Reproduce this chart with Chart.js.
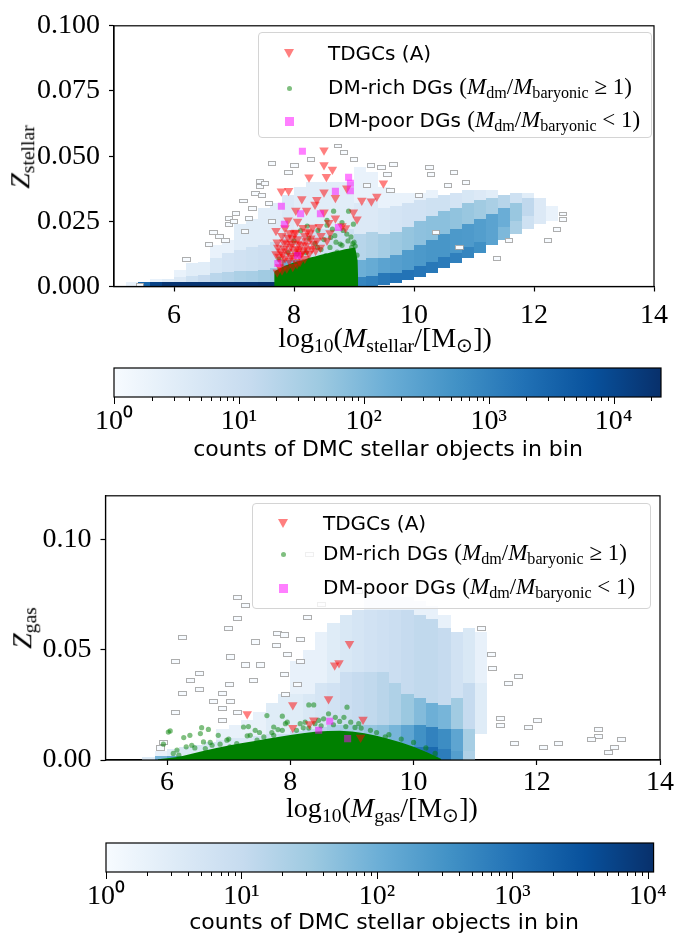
<!DOCTYPE html>
<html>
<head>
<meta charset="utf-8">
<script src="https://cdn.jsdelivr.net/npm/chart.js@4.4.1/dist/chart.umd.min.js"></script>
<style>
  body { margin: 0; background: #fff; }
  #page { position: relative; width: 675px; height: 935px; overflow: hidden; }
  canvas { position: absolute; left: 0; }
  .lbl { position: absolute; font-family: "Liberation Serif", serif; font-size: 28px; color: #000;
         white-space: nowrap; line-height: 1; transform: translate(-50%, -50%); }
  .lbl sub { font-size: 0.7em; vertical-align: -0.25em; }
  .cbt { position: absolute; font-family: "DejaVu Sans", sans-serif; font-size: 22px; color: #000;
         white-space: nowrap; transform: translate(-50%, -50%); }
  .legend { position: absolute; border: 1px solid #d4d4d4; border-radius: 4px;
            background: rgba(255,255,255,0.8); font-family: "DejaVu Sans", sans-serif; font-size: 20px; }
  .row { position: absolute; white-space: nowrap; line-height: 1; transform: translateY(-50%); }
  .m { font-family: "Liberation Serif", serif; font-size: 23px; }
  .m sub { font-size: 0.7em; vertical-align: -0.25em; }
  .tri { position: absolute; width: 0; height: 0; border-left: 5px solid transparent;
         border-right: 5px solid transparent; border-top: 9px solid rgba(255,0,0,0.5); }
  .dot { position: absolute; width: 5px; height: 5px; border-radius: 50%; background: rgba(0,128,0,0.5); }
  .sq { position: absolute; width: 9px; height: 9px; background: rgba(255,0,255,0.5); }
</style>
</head>
<body>
<div id="page">
  <canvas id="cTop" width="675" height="340" style="top:0"></canvas>
  <canvas id="cbTop" width="675" height="95" style="top:350px"></canvas>
  <canvas id="cBot" width="675" height="340" style="top:470px"></canvas>
  <canvas id="cbBot" width="675" height="95" style="top:825px"></canvas>

  <div class="lbl" style="left:22px;top:157px;transform:translate(-50%,-50%) rotate(-90deg)"><i>Z</i><sub>stellar</sub></div>
  <div class="lbl" style="left:385px;top:340px">log<sub>10</sub>(<i>M</i><sub>stellar</sub>/[M<sub>⊙</sub>])</div>
  <div class="cbt" style="left:388px;top:448px">counts of DMC stellar objects in bin</div>

  <div class="lbl" style="left:24px;top:628px;transform:translate(-50%,-50%) rotate(-90deg)"><i>Z</i><sub>gas</sub></div>
  <div class="lbl" style="left:382px;top:810px">log<sub>10</sub>(<i>M</i><sub>gas</sub>/[M<sub>⊙</sub>])</div>
  <div class="cbt" style="left:384px;top:921px">counts of DMC stellar objects in bin</div>

  <div class="legend" style="left:258px;top:32px;width:392px;height:104px">
    <div class="tri" style="left:25px;top:16px"></div>
    <div class="row" style="left:69px;top:20px">TDGCs (A)</div>
    <div class="dot" style="left:28px;top:53px"></div>
    <div class="row" style="left:69px;top:55px">DM-rich DGs <span class="m">(<i>M</i><sub>dm</sub>/<i>M</i><sub>baryonic</sub> ≥ 1)</span></div>
    <div class="sq" style="left:26px;top:84px"></div>
    <div class="row" style="left:69px;top:88px">DM-poor DGs <span class="m">(<i>M</i><sub>dm</sub>/<i>M</i><sub>baryonic</sub> &lt; 1)</span></div>
  </div>

  <div class="legend" style="left:252px;top:503px;width:397px;height:104px">
    <div class="tri" style="left:25px;top:15px"></div>
    <div class="row" style="left:70px;top:19px">TDGCs (A)</div>
    <div class="dot" style="left:28px;top:48px"></div>
    <div class="row" style="left:70px;top:50px">DM-rich DGs <span class="m">(<i>M</i><sub>dm</sub>/<i>M</i><sub>baryonic</sub> ≥ 1)</span></div>
    <div class="sq" style="left:26px;top:80px"></div>
    <div class="row" style="left:70px;top:84px">DM-poor DGs <span class="m">(<i>M</i><sub>dm</sub>/<i>M</i><sub>baryonic</sub> &lt; 1)</span></div>
  </div>
</div>

<script>
// ---- axis ticks ----
const xTicks = [6, 8, 10, 12, 14];
const zStellarTicks = [0, 0.025, 0.05, 0.075, 0.1];
const zGasTicks = [0, 0.05, 0.1];
const cbMajor = [1, 10, 100, 1000, 10000];
const cbMaxTop = 24000;
const cbMaxBot = 11000;

// ---- 2D histogram, stellar panel: column left edges (0.2 dex wide) and [yLow, yHigh, count] runs ----
const stellarCols = [5.2, 5.4, 5.6, 5.8, 6.0, 6.2, 6.4, 6.6, 6.8, 7.0, 7.2, 7.4, 7.6, 7.8, 8.0, 8.2, 8.4, 8.6, 8.8,
  9.0, 9.2, 9.4, 9.6, 9.8, 10.0, 10.2, 10.4, 10.6, 10.8, 11.0, 11.2, 11.4, 11.6, 11.8, 12.0, 12.2];
const stellarSegs = [
  [[0, 0.0016, 2]],
  [[0, 0.0016, 3000]],
  [[0, 0.0016, 12000], [0.0016, 0.003, 2]],
  [[0, 0.0016, 20000], [0.0016, 0.003, 3]],
  [[0, 0.0016, 20000], [0.0016, 0.0035, 4], [0.0035, 0.0065, 2]],
  [[0, 0.0016, 20000], [0.0016, 0.004, 8], [0.004, 0.009, 3]],
  [[0, 0.0016, 20000], [0.0016, 0.0045, 12], [0.0045, 0.0095, 3]],
  [[0, 0.0016, 20000], [0.0016, 0.005, 18], [0.005, 0.011, 5], [0.011, 0.016, 2]],
  [[0, 0.0016, 20000], [0.0016, 0.0055, 22], [0.0055, 0.013, 6], [0.013, 0.018, 2]],
  [[0, 0.0016, 20000], [0.0016, 0.006, 28], [0.006, 0.014, 7], [0.014, 0.024, 3]],
  [[0, 0.0016, 20000], [0.0016, 0.006, 32], [0.006, 0.015, 8], [0.015, 0.026, 3]],
  [[0, 0.0016, 22000], [0.0016, 0.0065, 40], [0.0065, 0.016, 9], [0.016, 0.03, 3]],
  [[0, 0.0016, 22000], [0.0016, 0.007, 45], [0.007, 0.017, 10], [0.017, 0.032, 3]],
  [[0, 0.003, 15000], [0.003, 0.01, 150], [0.01, 0.02, 12], [0.02, 0.035, 4]],
  [[0, 0.003, 8000], [0.003, 0.01, 200], [0.01, 0.02, 10], [0.02, 0.038, 3]],
  [[0, 0.003, 5000], [0.003, 0.01, 250], [0.01, 0.022, 8], [0.022, 0.04, 3]],
  [[0, 0.003, 3000], [0.003, 0.01, 250], [0.01, 0.022, 8], [0.022, 0.04, 3]],
  [[0, 0.003, 2500], [0.003, 0.01, 300], [0.01, 0.022, 8], [0.022, 0.04, 3]],
  [[0, 0.003, 2000], [0.003, 0.01, 300], [0.01, 0.022, 8], [0.022, 0.04, 3]],
  [[0, 0.0035, 900], [0.0035, 0.01, 150], [0.01, 0.02, 20], [0.02, 0.032, 4], [0.032, 0.046, 2]],
  [[0, 0.004, 1100], [0.004, 0.011, 180], [0.011, 0.021, 25], [0.021, 0.034, 4], [0.034, 0.044, 2]],
  [[0.0005, 0.005, 1500], [0.005, 0.011, 250], [0.011, 0.02, 35], [0.02, 0.03, 5], [0.03, 0.038, 2]],
  [[0.0015, 0.005, 1800], [0.005, 0.012, 300], [0.012, 0.021, 45], [0.021, 0.031, 6], [0.031, 0.036, 2]],
  [[0.0025, 0.0065, 1800], [0.0065, 0.014, 350], [0.014, 0.023, 55], [0.023, 0.032, 7], [0.032, 0.036, 2]],
  [[0.0035, 0.008, 1600], [0.008, 0.016, 400], [0.016, 0.025, 65], [0.025, 0.033, 7], [0.033, 0.036, 2]],
  [[0.005, 0.0095, 1500], [0.0095, 0.018, 450], [0.018, 0.027, 70], [0.027, 0.034, 8], [0.034, 0.037, 2]],
  [[0.007, 0.0115, 1300], [0.0115, 0.02, 450], [0.02, 0.029, 70], [0.029, 0.035, 8]],
  [[0.009, 0.013, 1100], [0.013, 0.022, 400], [0.022, 0.03, 60], [0.03, 0.036, 6]],
  [[0.011, 0.015, 900], [0.015, 0.024, 380], [0.024, 0.032, 50], [0.032, 0.037, 5]],
  [[0.013, 0.017, 600], [0.017, 0.026, 320], [0.026, 0.033, 40], [0.033, 0.037, 4]],
  [[0.016, 0.021, 250], [0.021, 0.028, 250], [0.028, 0.034, 30], [0.034, 0.037, 3]],
  [[0.018, 0.023, 100], [0.023, 0.03, 160], [0.03, 0.035, 20]],
  [[0.02, 0.025, 30], [0.025, 0.032, 50], [0.032, 0.036, 8]],
  [[0.022, 0.027, 8], [0.027, 0.034, 15], [0.034, 0.036, 3]],
  [[0.024, 0.034, 4]],
  [[0.025, 0.031, 2]]
];
// single-count cells (centres)
const stellarLone = [[5.43, 0.0006], [6.20, 0.0107], [6.58, 0.0163], [6.65, 0.021], [6.75, 0.0195], [6.85, 0.018],
  [6.91, 0.0264], [6.91, 0.0239], [7.02, 0.0283], [6.99, 0.0251], [7.18, 0.0214], [7.24, 0.0264], [7.15, 0.033],
  [7.30, 0.030], [7.35, 0.036], [7.43, 0.0403], [7.43, 0.0384], [7.46, 0.0352], [7.51, 0.0396], [7.57, 0.032],
  [7.62, 0.0472], [7.62, 0.0251], [7.90, 0.044], [8.00, 0.0466], [8.28, 0.049], [8.72, 0.0541], [8.83, 0.0516],
  [8.99, 0.049], [9.27, 0.0466], [9.21, 0.039], [9.45, 0.046], [9.55, 0.043], [9.60, 0.037], [9.65, 0.047],
  [10.07, 0.035], [10.25, 0.046], [10.28, 0.043], [10.56, 0.039], [10.66, 0.044], [10.86, 0.040], [10.36, 0.021],
  [10.75, 0.015], [11.38, 0.011], [11.57, 0.018], [12.22, 0.018], [12.37, 0.022], [12.47, 0.028], [12.47, 0.026]];

// ---- 2D histogram, gas panel ----
const gasCols = [5.6, 5.8, 6.0, 6.2, 6.4, 6.6, 6.8, 7.0, 7.2, 7.4, 7.6, 7.8, 8.0, 8.2, 8.4, 8.6, 8.8, 9.0, 9.2,
  9.4, 9.6, 9.8, 10.0, 10.2, 10.4, 10.6, 10.8, 11.0];
const gasSegs = [
  [[0, 0.0015, 3]],
  [[0, 0.0018, 80], [0.0018, 0.004, 2]],
  [[0, 0.0018, 150], [0.0018, 0.005, 3]],
  [[0, 0.0018, 200], [0.0018, 0.006, 4]],
  [[0, 0.0018, 200], [0.0018, 0.007, 4]],
  [[0, 0.002, 150], [0.002, 0.008, 4]],
  [[0, 0.002, 100], [0.002, 0.009, 4], [0.009, 0.014, 2]],
  [[0, 0.002, 100], [0.002, 0.01, 4], [0.01, 0.016, 2]],
  [[0, 0.002, 100], [0.002, 0.01, 4], [0.01, 0.018, 2]],
  [[0, 0.002, 100], [0.002, 0.011, 5], [0.011, 0.022, 2]],
  [[0, 0.002, 100], [0.002, 0.012, 6], [0.012, 0.026, 3]],
  [[0, 0.003, 100], [0.003, 0.012, 8], [0.012, 0.03, 3]],
  [[0, 0.003, 150], [0.003, 0.013, 10], [0.013, 0.03, 3], [0.03, 0.045, 2]],
  [[0, 0.003, 150], [0.003, 0.014, 12], [0.014, 0.03, 4], [0.03, 0.05, 2]],
  [[0, 0.004, 200], [0.004, 0.015, 15], [0.015, 0.035, 5], [0.035, 0.058, 2]],
  [[0, 0.004, 250], [0.004, 0.016, 20], [0.016, 0.035, 6], [0.035, 0.062, 3]],
  [[0, 0.005, 300], [0.005, 0.016, 25], [0.016, 0.04, 8], [0.04, 0.066, 4]],
  [[0, 0.005, 350], [0.005, 0.016, 30], [0.016, 0.04, 10], [0.04, 0.068, 5]],
  [[0, 0.005, 400], [0.005, 0.016, 40], [0.016, 0.04, 12], [0.04, 0.068, 6], [0.068, 0.075, 2]],
  [[0, 0.005, 500], [0.005, 0.016, 50], [0.016, 0.04, 15], [0.04, 0.068, 7], [0.068, 0.076, 2]],
  [[0, 0.005, 600], [0.005, 0.016, 80], [0.016, 0.035, 20], [0.035, 0.068, 8], [0.068, 0.075, 2]],
  [[0, 0.005, 700], [0.005, 0.016, 150], [0.016, 0.03, 35], [0.03, 0.068, 10], [0.068, 0.074, 2]],
  [[0, 0.006, 1000], [0.006, 0.016, 350], [0.016, 0.028, 60], [0.028, 0.066, 12], [0.066, 0.072, 2]],
  [[0, 0.006, 1400], [0.006, 0.015, 600], [0.015, 0.026, 100], [0.026, 0.064, 12], [0.064, 0.07, 2]],
  [[0, 0.005, 700], [0.005, 0.014, 400], [0.014, 0.025, 80], [0.025, 0.06, 10], [0.06, 0.066, 2]],
  [[0, 0.004, 200], [0.004, 0.014, 150], [0.014, 0.028, 30], [0.028, 0.058, 6]],
  [[0, 0.004, 20], [0.004, 0.014, 25], [0.014, 0.035, 10], [0.035, 0.06, 4]],
  [[0.012, 0.035, 3], [0.035, 0.058, 2]]
];
const gasLone = [[8.30, 0.0934], [7.13, 0.074], [7.27, 0.0703], [7.13, 0.0646], [6.99, 0.060], [6.24, 0.0557],
  [7.78, 0.0575], [7.43, 0.0538], [7.76, 0.0523], [7.02, 0.047], [6.13, 0.0448], [7.27, 0.0434], [7.51, 0.0434],
  [6.51, 0.0396], [6.37, 0.0362], [7.40, 0.0362], [7.00, 0.0344], [6.51, 0.0324], [6.24, 0.0306], [6.75, 0.0269],
  [6.89, 0.0306], [7.02, 0.0269], [6.13, 0.0217], [6.89, 0.0236], [7.13, 0.0217], [6.89, 0.018], [5.89, 0.0057],
  [5.93, 0.008], [7.89, 0.057], [8.16, 0.055], [7.95, 0.048], [8.16, 0.045], [7.89, 0.039], [8.11, 0.0344],
  [7.92, 0.030], [8.27, 0.065], [8.50, 0.071], [9.10, 0.077], [11.09, 0.060], [11.25, 0.048], [11.27, 0.0419],
  [11.69, 0.038], [11.53, 0.035], [11.41, 0.019], [11.41, 0.016], [12.00, 0.018], [11.85, 0.015], [11.63, 0.0076],
  [12.10, 0.006], [12.35, 0.0076], [12.99, 0.014], [13.00, 0.011], [12.88, 0.0097], [13.37, 0.0097], [13.25, 0.006],
  [13.15, 0.0036]];

// ---- scatter samples, stellar panel ----
const tdgcStellar = [[8.50, 0.0523], [8.50, 0.0466], [8.64, 0.0449], [8.25, 0.0419], [8.54, 0.0421], [8.88, 0.0377],
  [7.79, 0.0365], [7.91, 0.0367], [8.50, 0.0362], [8.13, 0.0336], [8.38, 0.0333], [8.69, 0.0340], [9.13, 0.0330],
  [9.29, 0.0327], [9.38, 0.0345], [9.49, 0.0396], [8.35, 0.0315], [8.03, 0.0292], [8.21, 0.0292], [8.50, 0.0285],
  [8.99, 0.0285], [7.90, 0.0254], [8.06, 0.0249], [8.69, 0.0262], [9.05, 0.0258], [7.85, 0.0224], [7.70, 0.0214],
  [8.31, 0.0226], [8.42, 0.0229], [8.80, 0.0232], [8.86, 0.0224], [8.03, 0.0207], [8.22, 0.0211], [7.90, 0.0188],
  [8.06, 0.0182], [8.38, 0.0176], [8.55, 0.0176], [7.73, 0.0150], [7.95, 0.0153], [8.20, 0.0157], [8.44, 0.0150],
  [8.01, 0.0132], [7.81, 0.0123], [8.09, 0.0119], [8.25, 0.0126], [7.79, 0.0094], [7.92, 0.0100], [7.76, 0.0075],
  [8.18, 0.0107], [8.36, 0.0138], [7.72, 0.017], [7.78, 0.0135], [7.88, 0.0165], [7.97, 0.0185], [8.04, 0.0145],
  [8.12, 0.016], [8.15, 0.0135], [8.28, 0.0185], [8.32, 0.0165], [7.85, 0.0108], [7.95, 0.0118], [8.10, 0.0095],
  [8.00, 0.0205], [8.45, 0.0195], [8.60, 0.0205], [8.27, 0.0205], [7.80, 0.0195], [8.15, 0.0225], [8.58, 0.0245],
  [7.72, 0.0055], [7.80, 0.0062], [7.88, 0.0070], [7.98, 0.0076], [8.05, 0.0086], [7.75, 0.0115], [7.90, 0.0135],
  [8.07, 0.0165], [8.20, 0.0175], [7.84, 0.0145], [8.00, 0.0110], [8.12, 0.0125], [8.30, 0.0145], [7.93, 0.0205],
  [8.18, 0.0195], [7.70, 0.0125], [7.83, 0.0170], [8.08, 0.0140], [8.22, 0.0140], [7.96, 0.0165]];
const poorStellar = [[8.14, 0.0519], [8.91, 0.0419], [8.94, 0.0396], [8.94, 0.0367], [8.69, 0.0365], [7.79, 0.0308],
  [8.44, 0.0279], [8.11, 0.0279], [8.74, 0.0226], [7.84, 0.0239], [7.73, 0.0088], [8.06, 0.0119]];
const richStellar = [[8.66, 0.0289], [8.91, 0.0289], [8.55, 0.0254], [8.80, 0.0245], [8.99, 0.0239], [8.64, 0.0220],
  [8.88, 0.0201], [8.61, 0.0188], [8.11, 0.0214], [8.22, 0.0232], [8.77, 0.0163], [8.96, 0.0150], [8.39, 0.0150],
  [8.72, 0.0132], [8.91, 0.0126], [8.53, 0.0119], [8.05, 0.0125], [8.20, 0.013], [8.45, 0.0142], [8.60, 0.015],
  [8.80, 0.0158], [9.00, 0.017], [8.90, 0.0175], [8.70, 0.017], [8.35, 0.0165], [8.50, 0.018], [8.95, 0.019],
  [7.90, 0.013], [7.75, 0.0105], [8.68, 0.0195], [8.82, 0.0215], [9.02, 0.0155], [8.25, 0.0185], [8.40, 0.0215],
  [8.00, 0.0175], [8.55, 0.0235], [9.05, 0.012], [8.98, 0.0165]];
// upper envelope of the saturated DM-rich cloud
const richStellarEdge = [[7.67, 0.0058], [7.75, 0.0068], [7.85, 0.0080], [7.95, 0.0088], [8.05, 0.0096],
  [8.15, 0.0101], [8.25, 0.0110], [8.35, 0.0115], [8.45, 0.0122], [8.55, 0.0127], [8.65, 0.0133], [8.75, 0.0137],
  [8.85, 0.0143], [8.95, 0.0147], [9.02, 0.0150], [9.06, 0.0100], [9.07, 0.0020]];

// ---- scatter samples, gas panel ----
const tdgcGas = [[8.96, 0.0528], [8.79, 0.0441], [8.72, 0.043], [7.30, 0.0209], [8.04, 0.025], [8.62, 0.0277],
  [8.04, 0.0147], [8.38, 0.018], [8.31, 0.0164], [9.18, 0.0184], [9.14, 0.0102]];
const poorGas = [[8.46, 0.0135], [8.64, 0.0176], [8.93, 0.0097]];
const richGas = [[6.02, 0.0127], [5.94, 0.0072], [6.27, 0.0102], [6.37, 0.0112], [6.54, 0.012], [6.56, 0.0147],
  [6.67, 0.0139], [6.31, 0.006], [6.40, 0.0067], [6.16, 0.0045], [6.19, 0.0022], [6.59, 0.0082], [6.62, 0.0052],
  [6.83, 0.0112], [6.73, 0.0067], [6.86, 0.0072], [7.02, 0.006], [6.97, 0.009], [7.13, 0.0075], [7.24, 0.015],
  [7.32, 0.0152], [7.35, 0.0112], [7.43, 0.0135], [7.62, 0.0202], [7.87, 0.0199], [7.73, 0.015], [7.92, 0.0165],
  [7.57, 0.0105], [7.46, 0.009], [7.73, 0.0112], [7.87, 0.0135], [6.05, 0.0132], [8.30, 0.025], [8.92, 0.024],
  [8.62, 0.021], [8.16, 0.0165], [8.46, 0.018], [8.21, 0.0146], [7.95, 0.0172], [8.38, 0.025], [8.73, 0.0194],
  [8.87, 0.0194], [8.54, 0.0187], [8.98, 0.0172], [9.11, 0.0165], [9.30, 0.0135], [9.54, 0.0105], [8.24, 0.0172],
  [8.50, 0.0155], [8.70, 0.016], [8.90, 0.0152], [9.05, 0.0148], [9.60, 0.0115], [9.80, 0.0095], [10.00, 0.008],
  [10.20, 0.0055], [8.10, 0.0135], [7.70, 0.0125], [7.30, 0.011], [7.00, 0.0095], [6.70, 0.008], [6.45, 0.0055],
  [6.10, 0.003], [8.30, 0.0145], [9.40, 0.0125], [9.15, 0.0145], [8.80, 0.0175], [8.40, 0.0165], [7.50, 0.0125],
  [7.80, 0.0138], [10.35, 0.003]];
const richGasEdge = [[5.85, 0.0003], [6.0, 0.0008], [6.2, 0.0015], [6.4, 0.0028], [6.6, 0.0042], [6.8, 0.0055],
  [7.0, 0.0066], [7.2, 0.0076], [7.4, 0.0085], [7.6, 0.0095], [7.8, 0.0105], [8.0, 0.0113], [8.2, 0.0122],
  [8.4, 0.0128], [8.6, 0.0132], [8.8, 0.0133], [9.0, 0.0130], [9.2, 0.0122], [9.4, 0.0110], [9.6, 0.0095],
  [9.8, 0.0080], [10.0, 0.0060], [10.2, 0.0038], [10.35, 0.0018], [10.45, 0.0005]];

// Blues colormap
const BLUES = [[247,251,255],[222,235,247],[198,219,239],[158,202,225],[107,174,214],[66,146,198],[33,113,181],[8,81,156],[8,48,107]];
function blues(t) {
  t = Math.min(1, Math.max(0, t)) * 8;
  const i = Math.min(7, Math.floor(t)), f = t - i, a = BLUES[i], b = BLUES[i + 1];
  return 'rgb(' + a.map((v, k) => Math.round(v + (b[k] - v) * f)).join(',') + ')';
}

function toBlocks(cols, segs, w) {
  const out = [];
  cols.forEach((x0, i) => segs[i].forEach(([y0, y1, c]) => out.push([x0, x0 + w, y0, y1, c])));
  return out;
}
const pts = arr => arr.map(([x, y]) => ({ x, y }));

const heatPlugin = {
  id: 'heat',
  beforeDatasetsDraw(chart, args, o) {
    const { ctx, chartArea: a, scales: { x, y } } = chart;
    const lv = Math.log10(o.vmax);
    ctx.save();
    ctx.beginPath(); ctx.rect(a.left, a.top, a.right - a.left, a.bottom - a.top); ctx.clip();
    ctx.lineWidth = 1;
    o.blocks.forEach(([x0, x1, y0, y1, c]) => {
      const l = Math.round(x.getPixelForValue(x0)), r = Math.round(x.getPixelForValue(x1));
      const t = Math.round(y.getPixelForValue(y1)), b = Math.round(y.getPixelForValue(y0));
      ctx.fillStyle = blues(Math.log10(c) / lv);
      ctx.fillRect(l, t, r - l, b - t);
    });
    o.lone.forEach(([cx, cy]) => {
      const l = Math.round(x.getPixelForValue(cx - o.cw / 2)), r = Math.round(x.getPixelForValue(cx + o.cw / 2));
      const t = Math.round(y.getPixelForValue(cy + o.ch / 2)), b = Math.round(y.getPixelForValue(cy - o.ch / 2));
      ctx.fillStyle = '#f7fbff';
      ctx.fillRect(l, t, r - l, b - t);
      ctx.strokeStyle = 'rgba(160,160,160,0.85)';
      ctx.strokeRect(l + 0.5, t + 0.5, r - l, b - t);
    });
    ctx.restore();
  }
};

const framePlugin = {
  id: 'frame',
  afterDraw(chart) {
    const { ctx, chartArea: a } = chart;
    ctx.save();
    ctx.strokeStyle = '#000'; ctx.lineWidth = 1.2;
    ctx.strokeRect(a.left, a.top, a.right - a.left, a.bottom - a.top);
    ctx.restore();
  }
};

const tickFont = { family: 'Liberation Serif', size: 28 };

function scatterChart(id, o) {
  return new Chart(document.getElementById(id), {
    type: 'scatter',
    data: { datasets: [
      { label: 'DM-poor DGs', data: pts(o.poor), pointStyle: 'rect', pointRadius: 5, backgroundColor: 'rgba(255,0,255,0.5)', borderWidth: 0, order: 0 },
      { label: 'TDGCs (A)', data: pts(o.tdgc), pointStyle: 'triangle', rotation: 180, pointRadius: 5.5, backgroundColor: 'rgba(255,0,0,0.5)', borderWidth: 0, order: 1 },
      { label: 'DM-rich DGs', data: pts(o.rich), pointRadius: 2.6, backgroundColor: 'rgba(0,128,0,0.5)', borderWidth: 0, order: 2 },
      { label: 'DM-rich DGs (dense)', data: pts(o.edge), showLine: true, fill: 'origin', pointRadius: 0, borderWidth: 0,
        backgroundColor: '#008000', borderColor: '#008000', order: 3 }
    ] },
    options: {
      responsive: false, animation: false, events: [],
      layout: { padding: { top: o.top, right: o.right, left: 0, bottom: 0 } },
      plugins: { legend: { display: false }, tooltip: { enabled: false },
        heat: { blocks: o.blocks, lone: o.lone, vmax: o.vmax, cw: o.cw, ch: o.ch } },
      scales: {
        x: { type: 'linear', min: 5, max: 14,
          afterBuildTicks: s => { s.ticks = xTicks.map(v => ({ value: v })); },
          afterFit: s => { s.height = o.xh; },
          grid: { drawOnChartArea: false, tickLength: 5, tickColor: '#000', tickWidth: 1.2 },
          border: { color: '#000', width: 1.2 },
          ticks: { color: '#000', font: tickFont, padding: o.xpad, maxRotation: 0, autoSkip: false } },
        y: { type: 'linear', min: 0, max: o.ymax,
          afterBuildTicks: s => { s.ticks = o.yTicks.map(v => ({ value: v })); },
          afterFit: s => { s.width = o.yw; },
          grid: { drawOnChartArea: false, tickLength: 5, tickColor: '#000', tickWidth: 1.2 },
          border: { color: '#000', width: 1.2 },
          ticks: { color: '#000', font: tickFont, padding: 9, autoSkip: false, callback: v => v.toFixed(o.dec) } }
      }
    },
    plugins: [heatPlugin, framePlugin]
  });
}

scatterChart('cTop', { poor: poorStellar, tdgc: tdgcStellar, rich: richStellar, edge: richStellarEdge,
  blocks: toBlocks(stellarCols, stellarSegs, 0.2), lone: stellarLone, vmax: cbMaxTop, cw: 0.12, ch: 0.0015,
  top: 22, right: 14, xh: 53.5, yw: 114, ymax: 0.1, yTicks: zStellarTicks, dec: 3, xpad: 7 });
scatterChart('cBot', { poor: poorGas, tdgc: tdgcGas, rich: richGas, edge: richGasEdge,
  blocks: toBlocks(gasCols, gasSegs, 0.2), lone: gasLone, vmax: cbMaxBot, cw: 0.13, ch: 0.0019,
  top: 22, right: 15, xh: 50, yw: 105.5, ymax: 0.12, yTicks: zGasTicks, dec: 2, xpad: 1 });

// ---- colorbars ----
const SUP = ['⁰', '¹', '²', '³', '⁴'];
const cbPlugin = {
  id: 'cbar',
  afterDraw(chart) {
    const { ctx, chartArea: a, scales: { x } } = chart;
    ctx.save();
    const g = ctx.createLinearGradient(a.left, 0, a.right, 0);
    BLUES.forEach((c, i) => g.addColorStop(i / 8, 'rgb(' + c.join(',') + ')'));
    ctx.fillStyle = g;
    ctx.fillRect(a.left, a.top, a.right - a.left, a.bottom - a.top);
    ctx.strokeStyle = '#000'; ctx.lineWidth = 1.2;
    ctx.strokeRect(a.left, a.top, a.right - a.left, a.bottom - a.top);
    ctx.lineWidth = 1;
    x.ticks.forEach(t => {
      const px = Math.round(x.getPixelForValue(t.value)) + 0.5;
      ctx.beginPath(); ctx.moveTo(px, a.bottom); ctx.lineTo(px, a.bottom + (t.major ? 7 : 4)); ctx.stroke();
    });
    ctx.restore();
  }
};
function colorbar(id, vmax, left) {
  const minors = [];
  cbMajor.forEach(d => [2, 3, 4, 5, 6, 7, 8, 9].forEach(m => { if (d * m <= vmax) minors.push(d * m); }));
  return new Chart(document.getElementById(id), {
    type: 'scatter',
    data: { datasets: [] },
    options: {
      responsive: false, animation: false, events: [],
      layout: { padding: { top: 18, right: 14, left: left, bottom: 0 } },
      plugins: { legend: { display: false }, tooltip: { enabled: false } },
      scales: {
        x: { type: 'logarithmic', min: 1, max: vmax,
          afterBuildTicks: s => {
            s.ticks = cbMajor.map(v => ({ value: v, major: true })).concat(minors.map(v => ({ value: v, major: false })))
              .sort((p, q) => p.value - q.value);
          },
          afterFit: s => { s.height = 95 - 18 - 29; },
          grid: { display: false, drawTicks: false },
          border: { display: false },
          ticks: { color: '#000', font: tickFont, padding: 8, maxRotation: 0, autoSkip: false,
            callback: v => { const k = cbMajor.indexOf(v); return k >= 0 ? '10' + SUP[k] : ''; } } },
        y: { display: false, min: 0, max: 1 }
      }
    },
    plugins: [cbPlugin]
  });
}
colorbar('cbTop', cbMaxTop, 114);
colorbar('cbBot', cbMaxBot, 106);
</script>
</body>
</html>
